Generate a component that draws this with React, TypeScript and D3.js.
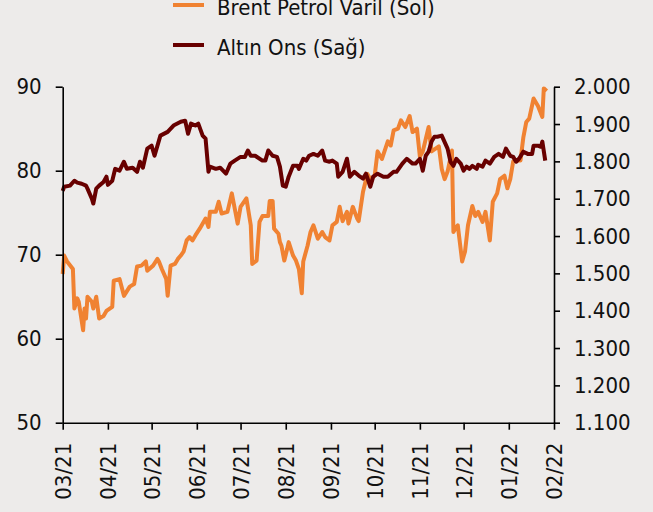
import React, { useEffect, useRef } from "react";
import * as d3 from "d3";

// Brent (left axis, USD/barrel)
const brentDates = [
  "2021-03-01", "2021-03-02", "2021-03-04", "2021-03-08", "2021-03-09", "2021-03-11", "2021-03-12", "2021-03-15",
  "2021-03-16", "2021-03-17", "2021-03-18", "2021-03-21", "2021-03-22", "2021-03-24", "2021-03-26", "2021-03-29",
  "2021-03-31", "2021-04-04", "2021-04-05", "2021-04-09", "2021-04-12", "2021-04-16", "2021-04-19", "2021-04-21",
  "2021-04-24", "2021-04-27", "2021-04-28", "2021-05-02", "2021-05-05", "2021-05-06", "2021-05-08", "2021-05-11",
  "2021-05-12", "2021-05-14", "2021-05-17", "2021-05-19", "2021-05-21", "2021-05-23", "2021-05-25", "2021-05-27",
  "2021-05-29", "2021-05-31", "2021-06-03", "2021-06-07", "2021-06-09", "2021-06-10", "2021-06-14", "2021-06-16",
  "2021-06-18", "2021-06-22", "2021-06-25", "2021-06-29", "2021-07-01", "2021-07-05", "2021-07-08", "2021-07-09",
  "2021-07-12", "2021-07-14", "2021-07-16", "2021-07-20", "2021-07-21", "2021-07-23", "2021-07-24", "2021-07-27",
  "2021-07-28", "2021-07-29", "2021-07-31", "2021-08-02", "2021-08-03", "2021-08-06", "2021-08-08", "2021-08-10",
  "2021-08-12", "2021-08-13", "2021-08-16", "2021-08-18", "2021-08-20", "2021-08-23", "2021-08-26", "2021-08-28",
  "2021-08-31", "2021-09-02", "2021-09-05", "2021-09-07", "2021-09-09", "2021-09-12", "2021-09-13", "2021-09-16",
  "2021-09-19", "2021-09-20", "2021-09-23", "2021-09-26", "2021-09-28", "2021-10-01", "2021-10-03", "2021-10-06",
  "2021-10-10", "2021-10-12", "2021-10-14", "2021-10-17", "2021-10-19", "2021-10-22", "2021-10-25", "2021-10-27",
  "2021-10-30", "2021-11-01", "2021-11-03", "2021-11-07", "2021-11-09", "2021-11-14", "2021-11-16", "2021-11-18",
  "2021-11-20", "2021-11-23", "2021-11-24", "2021-11-26", "2021-11-27", "2021-11-30", "2021-12-02", "2021-12-04",
  "2021-12-07", "2021-12-09", "2021-12-11", "2021-12-14", "2021-12-16", "2021-12-19", "2021-12-21", "2021-12-24",
  "2021-12-26", "2021-12-29", "2021-12-31", "2022-01-02", "2022-01-04", "2022-01-06", "2022-01-09", "2022-01-11",
  "2022-01-13", "2022-01-15", "2022-01-18", "2022-01-21", "2022-01-24", "2022-01-25", "2022-01-27",
];
const brentValues = [
  67.7, 69.9, 69.2, 68.3, 63.6, 64.8, 64.4, 61.0,
  63.6, 62.4, 65.0, 64.4, 63.6, 65.0, 62.4, 62.7,
  63.3, 63.8, 66.9, 67.1, 65.1, 66.2, 66.5, 68.6,
  68.7, 69.2, 68.1, 68.7, 69.5, 69.2, 68.3, 67.1,
  65.1, 68.7, 68.9, 69.5, 69.9, 70.4, 71.7, 72.1,
  71.7, 72.3, 73.1, 74.3, 73.3, 75.1, 75.1, 76.3,
  74.9, 75.1, 77.3, 73.7, 75.7, 76.7, 73.5, 68.9,
  69.3, 73.9, 74.6, 74.6, 76.4, 76.4, 73.1, 72.5,
  71.5, 71.1, 69.3, 70.7, 71.5, 69.9, 69.3, 68.3,
  65.4, 69.2, 71.1, 72.7, 73.5, 71.9, 72.7, 72.1,
  71.7, 73.5, 73.9, 75.7, 74.0, 75.1, 73.7, 75.7,
  74.3, 74.0, 77.5, 79.6, 79.0, 79.4, 82.3, 81.4,
  83.5, 83.0, 84.8, 85.0, 86.0, 85.2, 86.5, 84.6,
  85.0, 81.7, 82.3, 85.2, 82.3, 82.9, 80.2, 79.0,
  79.9, 82.4, 72.7, 73.3, 73.5, 69.2, 70.4, 73.5,
  75.8, 74.6, 75.1, 73.9, 75.1, 71.7, 76.3, 77.3,
  79.0, 79.4, 77.9, 79.0, 81.1, 81.2, 81.2, 84.0,
  85.8, 86.2, 88.6, 87.7, 86.4, 89.8, 89.5,
];

// Gold (right axis, USD/ounce)
const goldDates = [
  "2021-03-01", "2021-03-02", "2021-03-06", "2021-03-09", "2021-03-11", "2021-03-14", "2021-03-17", "2021-03-18",
  "2021-03-21", "2021-03-22", "2021-03-24", "2021-03-26", "2021-03-29", "2021-03-31", "2021-04-01", "2021-04-04",
  "2021-04-06", "2021-04-09", "2021-04-12", "2021-04-14", "2021-04-18", "2021-04-21", "2021-04-23", "2021-04-25",
  "2021-04-28", "2021-05-01", "2021-05-03", "2021-05-07", "2021-05-12", "2021-05-16", "2021-05-21", "2021-05-24",
  "2021-05-26", "2021-05-28", "2021-05-31", "2021-06-02", "2021-06-05", "2021-06-07", "2021-06-09", "2021-06-10",
  "2021-06-14", "2021-06-17", "2021-06-21", "2021-06-24", "2021-06-27", "2021-07-01", "2021-07-04", "2021-07-06",
  "2021-07-08", "2021-07-11", "2021-07-16", "2021-07-18", "2021-07-20", "2021-07-23", "2021-07-26", "2021-07-28",
  "2021-07-30", "2021-08-01", "2021-08-03", "2021-08-06", "2021-08-09", "2021-08-10", "2021-08-13", "2021-08-15",
  "2021-08-17", "2021-08-20", "2021-08-23", "2021-08-26", "2021-08-28", "2021-08-31", "2021-09-02", "2021-09-05",
  "2021-09-06", "2021-09-09", "2021-09-12", "2021-09-14", "2021-09-17", "2021-09-20", "2021-09-23", "2021-09-25",
  "2021-09-28", "2021-09-30", "2021-10-03", "2021-10-07", "2021-10-10", "2021-10-14", "2021-10-16", "2021-10-20",
  "2021-10-23", "2021-10-27", "2021-10-29", "2021-11-01", "2021-11-03", "2021-11-05", "2021-11-07", "2021-11-09",
  "2021-11-11", "2021-11-13", "2021-11-16", "2021-11-20", "2021-11-22", "2021-11-24", "2021-11-26", "2021-11-29",
  "2021-12-01", "2021-12-03", "2021-12-05", "2021-12-07", "2021-12-10", "2021-12-11", "2021-12-14", "2021-12-16",
  "2021-12-19", "2021-12-22", "2021-12-25", "2021-12-28", "2021-12-30", "2022-01-02", "2022-01-04", "2022-01-06",
  "2022-01-08", "2022-01-11", "2022-01-14", "2022-01-17", "2022-01-18", "2022-01-21", "2022-01-23", "2022-01-24",
  "2022-01-26",
];
const goldValues = [
  1721, 1732, 1735, 1748, 1743, 1740, 1735, 1727,
  1700, 1687, 1727, 1735, 1745, 1759, 1737, 1748,
  1780, 1775, 1799, 1780, 1783, 1772, 1799, 1783,
  1834, 1842, 1815, 1869, 1879, 1896, 1906, 1909,
  1874, 1901, 1896, 1901, 1869, 1861, 1772, 1786,
  1780, 1783, 1767, 1794, 1802, 1812, 1812, 1829,
  1815, 1815, 1802, 1802, 1829, 1815, 1812, 1786,
  1735, 1732, 1759, 1788, 1788, 1780, 1807, 1802,
  1815, 1820, 1815, 1829, 1802, 1799, 1802, 1794,
  1759, 1772, 1807, 1759, 1772, 1762, 1754, 1767,
  1732, 1759, 1767, 1759, 1759, 1772, 1772, 1794,
  1807, 1794, 1794, 1807, 1775, 1815, 1826, 1853,
  1866, 1866, 1869, 1834, 1799, 1788, 1807, 1794,
  1775, 1786, 1780, 1788, 1780, 1791, 1786, 1802,
  1794, 1812, 1820, 1812, 1834, 1815, 1812, 1799,
  1807, 1826, 1820, 1820, 1842, 1842, 1839, 1853,
  1802,
];

const leftTicks = [50, 60, 70, 80, 90];
const rightTicks = [1100, 1200, 1300, 1400, 1500, 1600, 1700, 1800, 1900, 2000];
const xDomain = ["2021-03-01", "2022-02-01"];
const seriesNames = ["Brent Petrol Varil (Sol)", "Altın Ons (Sağ)"];
const seriesColors = ["#F08232", "#680000"];

const FONT = "'DejaVu Sans Condensed', 'DejaVu Sans', sans-serif";

export default function App() {
  const ref = useRef<SVGSVGElement>(null);

  useEffect(() => {
    const svg = d3.select(ref.current);
    svg.selectAll("*").remove();

    const margin = { top: 86.7, right: 99, bottom: 89.3, left: 62.7 };
    const width = 653;
    const height = 512;
    const parse = d3.timeParse("%Y-%m-%d");

    const x = d3.scaleTime()
      .domain(xDomain.map((d) => parse(d)))
      .range([margin.left, width - margin.right]);
    const yLeft = d3.scaleLinear()
      .domain([50, 90])
      .range([height - margin.bottom, margin.top]);
    const yRight = d3.scaleLinear()
      .domain([1100, 2000])
      .range([height - margin.bottom, margin.top]);

    const trFormat = d3.formatLocale({
      decimal: ",",
      thousands: ".",
      grouping: [3],
      currency: ["", ""],
    }).format(",");

    // lines
    const brent = brentDates.map((d, i) => ({ date: parse(d), value: brentValues[i] }));
    const gold = goldDates.map((d, i) => ({ date: parse(d), value: goldValues[i] }));

    const brentLine = d3.line<any>().x((d) => x(d.date)).y((d) => yLeft(d.value));
    const goldLine = d3.line<any>().x((d) => x(d.date)).y((d) => yRight(d.value));

    svg.append("path")
      .datum(brent)
      .attr("d", brentLine)
      .attr("fill", "none")
      .attr("stroke", seriesColors[0])
      .attr("stroke-width", 4)
      .attr("stroke-linejoin", "round");

    svg.append("path")
      .datum(gold)
      .attr("d", goldLine)
      .attr("fill", "none")
      .attr("stroke", seriesColors[1])
      .attr("stroke-width", 4)
      .attr("stroke-linejoin", "round");

    // axes
    const styleAxis = (g) => {
      g.attr("font-family", FONT).attr("font-size", 22);
      g.selectAll("path, line").attr("stroke", "#000").attr("stroke-width", 1.6);
      g.selectAll("text").attr("fill", "#111");
    };

    svg.append("g")
      .attr("transform", `translate(${margin.left},0)`)
      .call(d3.axisLeft(yLeft).tickValues(leftTicks).tickSize(7).tickSizeOuter(0).tickPadding(14))
      .call(styleAxis);

    svg.append("g")
      .attr("transform", `translate(${width - margin.right},0)`)
      .call(d3.axisRight(yRight).tickValues(rightTicks).tickFormat(trFormat).tickSize(6).tickSizeOuter(0).tickPadding(14))
      .call(styleAxis);

    const xAxis = svg.append("g")
      .attr("transform", `translate(0,${height - margin.bottom})`)
      .call(d3.axisBottom(x).ticks(d3.timeMonth.every(1)).tickFormat(d3.timeFormat("%m/%y")).tickSize(7).tickSizeOuter(0))
      .call(styleAxis);

    xAxis.selectAll(".tick text")
      .attr("transform", "rotate(-90)")
      .attr("text-anchor", "end")
      .attr("x", -20)
      .attr("y", 0)
      .attr("dy", "0.35em");

    // legend
    const legend = svg.append("g");
    seriesNames.forEach((name, i) => {
      const cy = 5 + i * 40;
      legend.append("line")
        .attr("x1", 173).attr("x2", 204)
        .attr("y1", cy).attr("y2", cy)
        .attr("stroke", seriesColors[i])
        .attr("stroke-width", 4);
      legend.append("text")
        .attr("x", 217)
        .attr("y", cy + 10)
        .attr("font-family", FONT)
        .attr("font-size", 22)
        .attr("fill", "#111")
        .text(name);
    });
  }, []);

  return (
    <svg
      ref={ref}
      width={653}
      height={512}
      style={{ position: "absolute", left: 0, top: 0, background: "#EDEBEA" }}
    />
  );
}
